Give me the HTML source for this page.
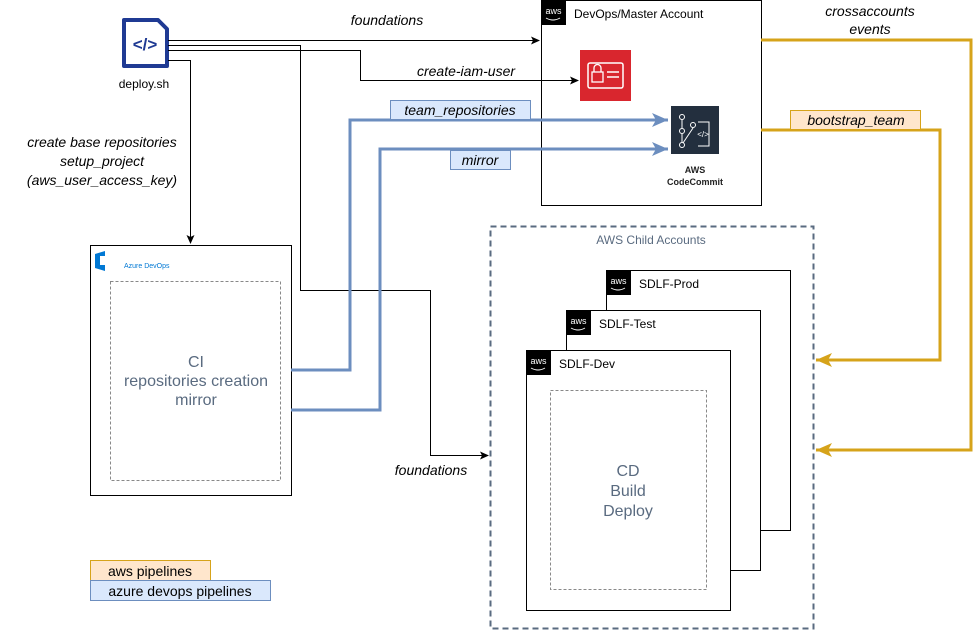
<!DOCTYPE html>
<html><head><meta charset="utf-8"><style>
html,body{margin:0;padding:0;background:#fff;}
svg{display:block;font-family:"Liberation Sans",Arial,sans-serif;}
</style></head><body>
<svg width="980" height="632" viewBox="0 0 980 632" xmlns="http://www.w3.org/2000/svg">
<defs>
<marker id="ab" markerWidth="10" markerHeight="10" refX="8" refY="5" orient="auto" markerUnits="userSpaceOnUse"><path d="M0,1 L9,5 L0,9 L2,5 Z" fill="#000"/></marker>
<marker id="abl" markerWidth="18" markerHeight="16" refX="16" refY="8" orient="auto" markerUnits="userSpaceOnUse"><path d="M0,1 L16,8 L0,15 L4,8 Z" fill="#6c8ebf"/></marker>
<marker id="ao" markerWidth="18" markerHeight="16" refX="16" refY="8" orient="auto" markerUnits="userSpaceOnUse"><path d="M0,1 L16,8 L0,15 L4,8 Z" fill="#d6a31a"/></marker>
</defs>

<!-- Master account -->
<rect x="541.5" y="0.5" width="220" height="205" fill="#fff" stroke="#000"/>
<rect x="541" y="0" width="25" height="25" fill="#000"/>
<text x="553.5" y="14" font-size="9" fill="#fff" text-anchor="middle">aws</text>
<path d="M546,18 q7,4 14,0" stroke="#fff" fill="none" stroke-width="1"/>
<text x="574" y="18" font-size="12" fill="#000">DevOps/Master Account</text>

<!-- IAM icon -->
<rect x="580" y="50" width="51" height="51" fill="#d9262e"/>
<rect x="588" y="63" width="35" height="25" rx="2" fill="none" stroke="#fff" stroke-width="1.5"/>
<rect x="592" y="72" width="11" height="10" fill="none" stroke="#fff" stroke-width="1.3"/>
<path d="M594,72 v-4 a3.5,3.5 0 0 1 7,0 v4" fill="none" stroke="#fff" stroke-width="1.3"/>
<line x1="607" y1="72" x2="619" y2="72" stroke="#fff" stroke-width="1.5"/>
<line x1="607" y1="77" x2="619" y2="77" stroke="#fff" stroke-width="1.5"/>

<!-- CodeCommit icon -->
<rect x="671" y="106" width="48" height="48" fill="#232f3e"/>
<circle cx="682" cy="117" r="2.5" fill="none" stroke="#fff"/>
<circle cx="682" cy="131" r="2.5" fill="none" stroke="#fff"/>
<circle cx="682" cy="145" r="2.5" fill="none" stroke="#fff"/>
<circle cx="693" cy="125" r="2.5" fill="none" stroke="#fff"/>
<line x1="682" y1="120" x2="682" y2="128" stroke="#fff"/>
<line x1="682" y1="134" x2="682" y2="142" stroke="#fff"/>
<path d="M683,143 L693,128" stroke="#fff" fill="none"/>
<path d="M698,122 h11 v24 h-11" stroke="#fff" fill="none"/>
<text x="703" y="137" font-size="8" fill="#fff" text-anchor="middle">&lt;/&gt;</text>
<text x="695" y="173" font-size="9" font-weight="bold" fill="#222" text-anchor="middle">AWS</text>
<text x="695" y="185" font-size="9" font-weight="bold" fill="#222" text-anchor="middle">CodeCommit</text>

<!-- deploy.sh icon -->
<path d="M124,20 h34 l9,9 v37 h-43 z" fill="#fff" stroke="#1f3a93" stroke-width="4" stroke-linejoin="round"/>
<text x="145" y="50" font-size="17" font-weight="bold" fill="#1f3a93" text-anchor="middle">&lt;/&gt;</text>
<text x="144" y="88" font-size="12" fill="#000" text-anchor="middle">deploy.sh</text>

<!-- Azure DevOps box -->
<rect x="90.5" y="245.5" width="201" height="250" fill="#fff" stroke="#000"/>
<path d="M95,254 l10,-3 v20 l-10,-3 z" fill="#0078d4"/>
<rect x="100" y="256" width="5" height="9" fill="#fff"/>
<text x="124" y="268" font-size="7" fill="#0078d4">Azure DevOps</text>
<rect x="110.5" y="281.5" width="170" height="199" fill="none" stroke="#888" stroke-dasharray="3,2"/>
<text x="196" y="367" font-size="16" fill="#5a6b80" text-anchor="middle">CI</text>
<text x="196" y="386" font-size="16" fill="#5a6b80" text-anchor="middle">repositories creation</text>
<text x="196" y="405" font-size="16" fill="#5a6b80" text-anchor="middle">mirror</text>

<!-- Child accounts -->
<rect x="490.5" y="226.5" width="323" height="402" fill="none" stroke="#5a6b80" stroke-width="2" stroke-dasharray="6,4"/>
<text x="651" y="244" font-size="12" fill="#5a6b80" text-anchor="middle">AWS Child Accounts</text>

<rect x="606.5" y="270.5" width="184" height="260" fill="#fff" stroke="#000"/>
<rect x="606" y="270" width="25" height="25" fill="#000"/>
<text x="618.5" y="284" font-size="9" fill="#fff" text-anchor="middle">aws</text>
<path d="M611,288 q7,4 14,0" stroke="#fff" fill="none"/>
<text x="639" y="288" font-size="12" fill="#000">SDLF-Prod</text>

<rect x="566.5" y="310.5" width="194" height="260" fill="#fff" stroke="#000"/>
<rect x="566" y="310" width="25" height="25" fill="#000"/>
<text x="578.5" y="324" font-size="9" fill="#fff" text-anchor="middle">aws</text>
<path d="M571,328 q7,4 14,0" stroke="#fff" fill="none"/>
<text x="599" y="328" font-size="12" fill="#000">SDLF-Test</text>

<rect x="526.5" y="350.5" width="204" height="260" fill="#fff" stroke="#000"/>
<rect x="526" y="350" width="25" height="25" fill="#000"/>
<text x="538.5" y="364" font-size="9" fill="#fff" text-anchor="middle">aws</text>
<path d="M531,368 q7,4 14,0" stroke="#fff" fill="none"/>
<text x="559" y="368" font-size="12" fill="#000">SDLF-Dev</text>
<rect x="550.5" y="390.5" width="156" height="199" fill="none" stroke="#888" stroke-dasharray="3,2"/>
<text x="628" y="476" font-size="16" fill="#5a6b80" text-anchor="middle">CD</text>
<text x="628" y="496" font-size="16" fill="#5a6b80" text-anchor="middle">Build</text>
<text x="628" y="516" font-size="16" fill="#5a6b80" text-anchor="middle">Deploy</text>

<!-- Black connectors -->
<path d="M168,40.5 H539" stroke="#000" fill="none" marker-end="url(#ab)"/>
<path d="M168,45.5 H300.5 V290.5 H430.5 V455.5 H488" stroke="#000" fill="none" marker-end="url(#ab)"/>
<path d="M168,50.5 H360.5 V80.5 H578" stroke="#000" fill="none" marker-end="url(#ab)"/>
<path d="M168,60.5 H190.5 V243" stroke="#000" fill="none" marker-end="url(#ab)"/>

<text x="387" y="25" font-size="14" font-style="italic" text-anchor="middle">foundations</text>
<text x="466" y="76" font-size="14" font-style="italic" text-anchor="middle">create-iam-user</text>
<text x="431" y="475" font-size="14" font-style="italic" text-anchor="middle">foundations</text>
<text x="102" y="147" font-size="14" font-style="italic" text-anchor="middle">create base repositories</text>
<text x="102" y="166" font-size="14" font-style="italic" text-anchor="middle">setup_project</text>
<text x="102" y="185" font-size="14" font-style="italic" text-anchor="middle">(aws_user_access_key)</text>

<!-- Blue connectors -->
<path d="M291,370 H350 V120 H668" stroke="#6c8ebf" stroke-width="3" fill="none" marker-end="url(#abl)"/>
<path d="M291,410 H380 V149 H668" stroke="#6c8ebf" stroke-width="3" fill="none" marker-end="url(#abl)"/>
<rect x="390.5" y="100.5" width="140" height="19" fill="#dae8fc" stroke="#6c8ebf"/>
<text x="460" y="115" font-size="14" font-style="italic" text-anchor="middle">team_repositories</text>
<rect x="450.5" y="150.5" width="60" height="19" fill="#dae8fc" stroke="#6c8ebf"/>
<text x="480" y="165" font-size="14" font-style="italic" text-anchor="middle">mirror</text>

<!-- Orange connectors -->
<path d="M761,40 H971 V450 H816" stroke="#d6a31a" stroke-width="3" fill="none" marker-end="url(#ao)"/>
<path d="M761,130 H940 V360 H816" stroke="#d6a31a" stroke-width="3" fill="none" marker-end="url(#ao)"/>
<text x="870" y="16" font-size="14" font-style="italic" text-anchor="middle">crossaccounts</text>
<text x="870" y="34" font-size="14" font-style="italic" text-anchor="middle">events</text>
<rect x="790.5" y="110.5" width="130" height="19" fill="#ffe6cc" stroke="#d6a31a"/>
<text x="856" y="125" font-size="14" font-style="italic" text-anchor="middle">bootstrap_team</text>

<!-- Legend -->
<rect x="90.5" y="560.5" width="120" height="20" fill="#ffe6cc" stroke="#d6a31a"/>
<text x="150" y="576" font-size="14" text-anchor="middle">aws  pipelines</text>
<rect x="90.5" y="580.5" width="180" height="20" fill="#dae8fc" stroke="#6c8ebf"/>
<text x="180" y="596" font-size="14" text-anchor="middle">azure devops pipelines</text>
</svg>
</body></html>
